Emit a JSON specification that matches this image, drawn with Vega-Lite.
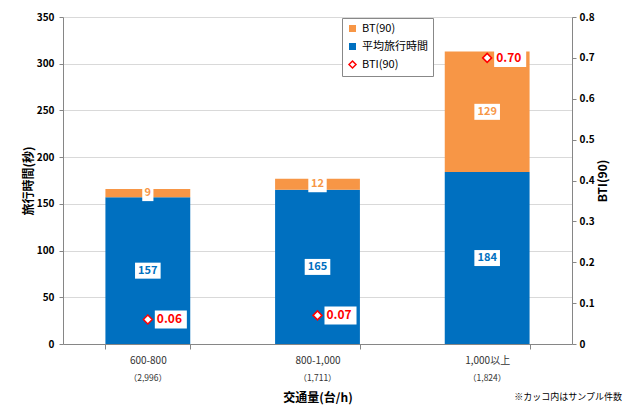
{
  "$schema": "https://vega.github.io/schema/vega-lite/v6.json",
  "width": 509,
  "height": 327,
  "autosize": {"type": "none"},
  "padding": {"left": 63, "top": 17, "right": 57, "bottom": 63},
  "background": "white",
  "config": {"font": "Noto Sans CJK JP", "view": {"stroke": null}},
  "datasets": {
    "tt": [
      {"cat": "600-800", "series": "平均旅行時間", "value": 157},
      {"cat": "600-800", "series": "BT(90)", "value": 9},
      {"cat": "800-1,000", "series": "平均旅行時間", "value": 165},
      {"cat": "800-1,000", "series": "BT(90)", "value": 12},
      {"cat": "1,000以上", "series": "平均旅行時間", "value": 184},
      {"cat": "1,000以上", "series": "BT(90)", "value": 129}
    ],
    "bti": [
      {"cat": "600-800", "bti": 0.06},
      {"cat": "800-1,000", "bti": 0.07},
      {"cat": "1,000以上", "bti": 0.70}
    ],
    "n": [
      {"cat": "600-800", "n": "（2,996）"},
      {"cat": "800-1,000", "n": "（1,711）"},
      {"cat": "1,000以上", "n": "（1,824）"}
    ]
  },
  "title": {
    "text": "※カッコ内はサンプル件数",
    "orient": "bottom",
    "anchor": "end",
    "frame": "group",
    "fontSize": 9,
    "fontWeight": "normal",
    "color": "#000",
    "offset": -10,
    "dx": 50
  },
  "encoding": {
    "x": {
      "field": "cat",
      "type": "nominal",
      "sort": null,
      "scale": {"domain": ["600-800", "800-1,000", "1,000以上"], "paddingInner": 0.5, "paddingOuter": 0.25},
      "axis": {
        "title": "交通量(台/h)",
        "labelAngle": 0,
        "labelFontSize": 10,
        "labelColor": "#333",
        "labelPadding": 6,
        "tickBand": "extent",
        "tickSize": 5,
        "tickColor": "#868686",
        "domainColor": "#868686",
        "titleFontSize": 12,
        "titleFontWeight": "bold",
        "titleColor": "#000",
        "titlePadding": 27,
        "grid": false
      }
    }
  },
  "layer": [
    {
      "layer": [
        {
          "data": {"name": "tt"},
          "transform": [
            {"stack": "value", "groupby": ["cat"], "sort": [{"field": "series", "order": "descending"}], "as": ["y0", "y1"]}
          ],
          "mark": {"type": "bar"},
          "encoding": {
            "y": {
              "field": "y0",
              "type": "quantitative",
              "scale": {"domain": [0, 350]},
              "axis": {
                "title": "旅行時間(秒)",
                "values": [0, 50, 100, 150, 200, 250, 300, 350],
                "grid": true,
                "gridColor": "#d9d9d9",
                "domainColor": "#868686",
                "tickColor": "#868686",
                "tickSize": 4,
                "labelFontSize": 10,
                "labelFontWeight": "bold",
                "labelColor": "#000",
                "labelPadding": 5,
                "titleFontSize": 12,
                "titleFontWeight": "bold",
                "titleColor": "#000",
                "titlePadding": 1
              }
            },
            "y2": {"field": "y1"},
            "color": {
              "field": "series",
              "type": "nominal",
              "scale": {"domain": ["BT(90)", "平均旅行時間", "BTI(90)"], "range": ["#F79646", "#0070C0", "#FFFFFF"]},
              "legend": {
                "title": null,
                "orient": "none",
                "legendX": 279,
                "legendY": 1,
                "padding": 5,
                "strokeColor": "#888",
                "fillColor": "white",
                "labelFontSize": 11,
                "labelColor": "#000",
                "labelOffset": 4,
                "rowPadding": 5,
                "symbolSize": 49,
                "encode": {
                  "symbols": {
                    "update": {
                      "shape": {"signal": "datum.label === 'BTI(90)' ? 'diamond' : 'square'"},
                      "stroke": {"signal": "datum.label === 'BTI(90)' ? '#FF0000' : 'transparent'"},
                      "strokeWidth": {"value": 1.5},
                      "opacity": {"value": 1}
                    }
                  }
                }
              }
            },
            "order": {"field": "series", "sort": "descending"}
          }
        },
        {
          "data": {"name": "tt"},
          "transform": [
            {"stack": "value", "groupby": ["cat"], "sort": [{"field": "series", "order": "descending"}], "as": ["y0", "y1"]},
            {"calculate": "(datum.y0 + datum.y1) / 2", "as": "mid"}
          ],
          "mark": {"type": "point", "filled": true, "color": "white", "opacity": 1, "strokeWidth": 0, "size": 256},
          "encoding": {
            "y": {"field": "mid", "type": "quantitative"},
            "shape": {
              "condition": [
                {"test": "datum.value < 10", "value": "M-0.7,-1H0.7V1H-0.7Z"},
                {"test": "datum.value < 100", "value": "M-1.15,-1H1.15V1H-1.15Z"}
              ],
              "value": "M-1.6,-1H1.6V1H-1.6Z"
            }
          }
        },
        {
          "data": {"name": "tt"},
          "transform": [
            {"stack": "value", "groupby": ["cat"], "sort": [{"field": "series", "order": "descending"}], "as": ["y0", "y1"]},
            {"calculate": "(datum.y0 + datum.y1) / 2", "as": "mid"}
          ],
          "mark": {"type": "text", "fontWeight": "bold", "fontSize": 11, "baseline": "middle"},
          "encoding": {
            "y": {"field": "mid", "type": "quantitative"},
            "text": {"field": "value", "type": "quantitative"},
            "color": {"field": "series", "type": "nominal", "legend": null}
          }
        },
        {
          "data": {"name": "n"},
          "mark": {"type": "text", "fontSize": 8.5, "color": "#333", "baseline": "middle", "dy": 34},
          "encoding": {
            "y": {"datum": 0, "type": "quantitative"},
            "text": {"field": "n", "type": "nominal"}
          }
        }
      ]
    },
    {
      "data": {"name": "bti"},
      "encoding": {
        "y": {
          "field": "bti",
          "type": "quantitative",
          "scale": {"domain": [0, 0.8]},
          "axis": {
            "orient": "right",
            "title": "BTI(90)",
            "titleAngle": -90,
            "titleBaseline": "top",
            "values": [0, 0.1, 0.2, 0.3, 0.4, 0.5, 0.6, 0.7, 0.8],
            "format": "~g",
            "grid": false,
            "domainColor": "#868686",
            "tickColor": "#868686",
            "tickSize": 4,
            "labelFontSize": 10,
            "labelFontWeight": "bold",
            "labelColor": "#000",
            "labelPadding": 3,
            "titleFontSize": 12,
            "titleFontWeight": "bold",
            "titleColor": "#000",
            "titlePadding": 3
          }
        }
      },
      "layer": [
        {
          "mark": {"type": "point", "shape": "M-1.78,-1H1.78V1H-1.78Z", "filled": true, "color": "white", "opacity": 1, "strokeWidth": 0, "size": 324, "xOffset": 23}
        },
        {
          "mark": {"type": "point", "shape": "diamond", "filled": false, "fill": "white", "stroke": "#FF0000", "strokeWidth": 1.5, "size": 80, "opacity": 1}
        },
        {
          "mark": {"type": "text", "align": "left", "baseline": "middle", "dx": 9, "fontWeight": "bold", "fontSize": 12, "color": "#FF0000"},
          "encoding": {"text": {"field": "bti", "type": "quantitative", "format": ".2f"}}
        }
      ]
    }
  ],
  "resolve": {"scale": {"y": "independent"}}
}
